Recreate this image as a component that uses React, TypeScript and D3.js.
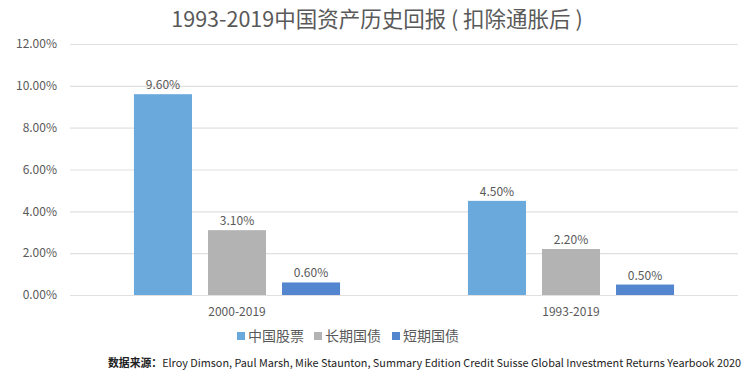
import React from "react";
import * as d3 from "d3";

const categories = ["2000-2019", "1993-2019"];
const seriesNames = ["中国股票", "长期国债", "短期国债"];
const seriesColors = ["#6aa9dc", "#b3b3b3", "#5486cf"];
const stockValues = [9.6, 4.5];
const longBondValues = [3.1, 2.2];
const shortBondValues = [0.6, 0.5];
const yTicks = [0, 2, 4, 6, 8, 10, 12];
const titleText = "1993-2019中国资产历史回报 ( 扣除通胀后 )";
const sourceLabel = "数据来源：";
const sourceText = "Elroy Dimson, Paul Marsh, Mike Staunton, Summary Edition Credit Suisse Global Investment Returns Yearbook 2020";

const W = 754;
const H = 378;
const margin = { left: 70, right: 16, top: 44, bottom: 83 };

export default function App() {
  const series = [stockValues, longBondValues, shortBondValues];
  const y = d3.scaleLinear().domain([0, 12]).range([H - margin.bottom, margin.top]);
  const x0 = d3
    .scaleBand<string>()
    .domain(categories)
    .range([margin.left, W - margin.right])
    .paddingInner(0.335)
    .paddingOuter(0.1675);
  const x1 = d3
    .scaleBand<string>()
    .domain(seriesNames)
    .range([0, x0.bandwidth()])
    .paddingInner(16 / 74)
    .paddingOuter(8 / 74);
  const font = "'Noto Sans CJK SC', 'Noto Sans', sans-serif";
  const txt = "#595959";
  const legendX = [237, 314, 392];
  return (
    <svg width={W} height={H} style={{ position: "absolute", left: 0, top: 0, background: "#fff" }} fontFamily={font}>
      <text x={377} y={27} textAnchor="middle" fontSize={21.5} fill={txt}>
        {titleText}
      </text>
      {yTicks.map((t) => (
        <g key={t}>
          <line x1={margin.left} x2={W - margin.right} y1={y(t) + 0.5} y2={y(t) + 0.5} stroke="#e0e0e0" strokeWidth={1.2} />
          <text x={57} y={y(t)} dy="0.35em" textAnchor="end" fontSize={12} fill={txt}>
            {t.toFixed(2) + "%"}
          </text>
        </g>
      ))}
      {categories.map((c, ci) => (
        <g key={c}>
          {seriesNames.map((s, si) => {
            const v = series[si][ci];
            const bx = (x0(c) as number) + (x1(s) as number);
            return (
              <g key={s}>
                <rect
                  x={bx}
                  y={y(v)}
                  width={x1.bandwidth()}
                  height={y(0) - y(v)}
                  fill={seriesColors[si]}
                />
                <text x={bx + x1.bandwidth() / 2} y={y(v) - 5} textAnchor="middle" fontSize={12} fill={txt}>
                  {v.toFixed(2) + "%"}
                </text>
              </g>
            );
          })}
          <text x={(x0(c) as number) + x0.bandwidth() / 2} y={312} dy="0.35em" textAnchor="middle" fontSize={12} fill={txt}>
            {c}
          </text>
        </g>
      ))}
      {seriesNames.map((s, si) => (
        <g key={s}>
          <rect x={legendX[si]} y={332} width={8} height={8} fill={seriesColors[si]} />
          <text x={legendX[si] + 11} y={336} dy="0.36em" fontSize={14} fill={txt}>
            {s}
          </text>
        </g>
      ))}
      <text x={108} y={363} dy="0.35em" fontSize={11} fill="#222" textLength={633} lengthAdjust="spacingAndGlyphs">
        <tspan fontWeight="bold">{sourceLabel}</tspan>
        <tspan>{sourceText}</tspan>
      </text>
    </svg>
  );
}
